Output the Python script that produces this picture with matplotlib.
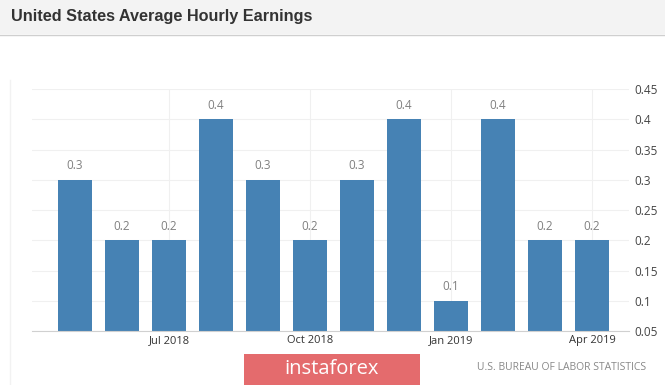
import matplotlib.pyplot as plt
from matplotlib.patches import Rectangle
from matplotlib.lines import Line2D

# data
months = ["May 2018", "Jun 2018", "Jul 2018", "Aug 2018", "Sep 2018", "Oct 2018",
          "Nov 2018", "Dec 2018", "Jan 2019", "Feb 2019", "Mar 2019", "Apr 2019"]
values = [0.3, 0.2, 0.2, 0.4, 0.3, 0.2, 0.3, 0.4, 0.1, 0.4, 0.2, 0.2]
tick_idx = [2, 5, 8, 11]
tick_labels = ["Jul 2018", "Oct 2018", "Jan 2019", "Apr 2019"]
yticks = [0.05, 0.1, 0.15, 0.2, 0.25, 0.3, 0.35, 0.4, 0.45]

W, H = 665, 385
fig = plt.figure(figsize=(W / 100, H / 100), dpi=100)
fig.patch.set_facecolor("white")
plt.rcParams['font.family'] = ['Open Sans', 'DejaVu Sans']

# header band
fig.patches.append(Rectangle((0, 1 - 34 / H), 1, 34 / H, transform=fig.transFigure,
                             facecolor="#f3f3f3", edgecolor="none", zorder=0))
fig.lines.append(Line2D([0, 1], [1 - 34.5 / H] * 2, transform=fig.transFigure,
                        color="#cfcfcf", lw=1))
fig.text(11 / W, 1 - 17 / H, "United States Average Hourly Earnings", family="Liberation Sans",
         fontsize=11.7, fontweight="bold", color="#333333", va="center", ha="left")
# faint frame on left
fig.lines.append(Line2D([10 / W] * 2, [0, 1 - 80 / H], transform=fig.transFigure,
                        color="#f2f2f2", lw=1))

left, right, top, bottom = 32, 629, 89, 331
ax = fig.add_axes([left / W, 1 - bottom / H, (right - left) / W, (bottom - top) / H])
x = list(range(len(values)))
x0 = (left - 75) / 47
x1 = x0 + (right - left) / 47
ax.bar(x, values, width=0.72, color="#4682b4", zorder=2)
for xi, v in zip(x, values):
    ax.text(xi, v + 0.012, f"{v:g}", ha="center", va="bottom", fontsize=8.5, color="#808080")

ax.set_xlim(x0, x1)
ax.set_ylim(0.05, 0.45)
ax.set_yticks(yticks)
ax.set_yticklabels([f"{t:g}" for t in yticks])
ax.yaxis.tick_right()
ax.set_xticks(tick_idx)
ax.set_xticklabels(tick_labels)
ax.tick_params(axis="y", length=0, pad=4, labelsize=8.5, labelcolor="#444444")
ax.tick_params(axis="x", length=0, pad=3, labelsize=8, labelcolor="#333333")
ax.grid(True, color="#f0f0f0", lw=0.8, zorder=0)
for s in ["top", "right", "left"]:
    ax.spines[s].set_visible(False)
ax.spines["bottom"].set_color("#d0d0d0")
ax.set_facecolor("none")

# footer
fig.patches.append(Rectangle((244 / W, 0), (420 - 244) / W, (H - 354) / H,
                             transform=fig.transFigure, facecolor="#e46b6d",
                             edgecolor="none"))
fig.text(332 / W, 1 - 369 / H, "instaforex", fontsize=14.5, color="white",
         ha="center", va="center")
fig.text(646 / W, 1 - 368 / H, "U.S. BUREAU OF LABOR STATISTICS", fontsize=7.5,
         color="#888888", ha="right", va="center")

fig.savefig("out.png", dpi=100)
